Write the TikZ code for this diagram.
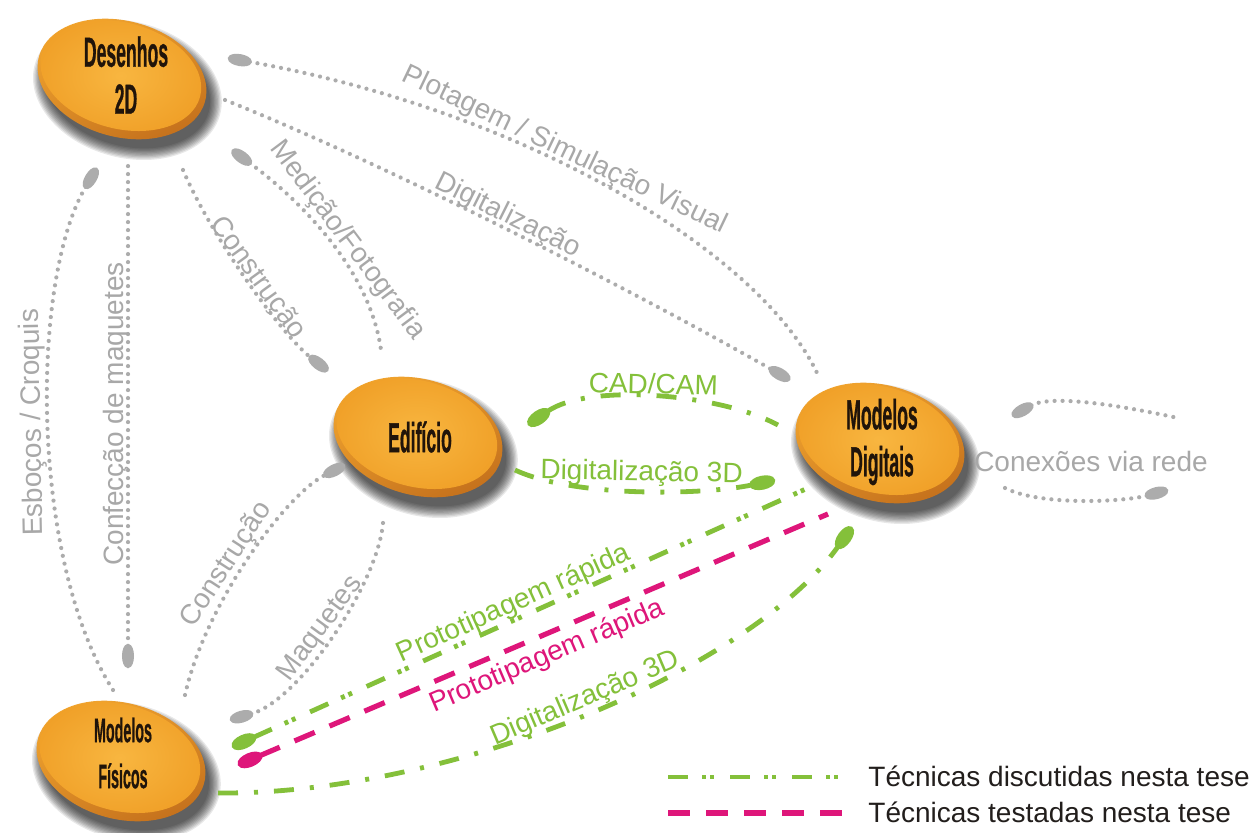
\documentclass[tikz,border=0pt]{standalone}
\usepackage{graphicx}
\usepackage{fontspec}
\setmainfont{Liberation Sans}
\newfontfamily\btnfont{Liberation Sans Bold}[FakeBold=1.0]
\usetikzlibrary{arrows.meta}

\definecolor{lblgray}{RGB}{168,168,168}
\definecolor{dotgray}{RGB}{172,172,172}
\definecolor{lime}{RGB}{132,192,58}
\definecolor{mag}{RGB}{222,22,122}
\definecolor{ink}{RGB}{34,30,28}
\definecolor{btnink}{RGB}{32,20,10}
\definecolor{btnlight}{RGB}{248,182,64}
\definecolor{btnbody}{RGB}{240,160,40}
\definecolor{rimlight}{RGB}{242,166,48}
\definecolor{rimdark}{RGB}{196,112,28}

% horizontally condensed text for the buttons
\newcommand\cond[1]{\scalebox{0.42}[1]{#1}}

% orange pressed-button ellipse with a soft drop shadow
\newcommand\drawbutton[1]{%
  \begin{scope}[shift={#1}]
    \foreach \s in {0,...,9}
      \fill[black, opacity=0.09, rotate=-15] (8,9) ellipse ({96-\s*1.3} and {68-\s*1.3});
    \shade[rotate=-15, top color=rimlight, bottom color=rimdark, shading angle=25] (0,0) ellipse (86 and 58);
    \shade[rotate=-15, inner color=btnlight, outer color=btnbody] (-2,-3) ellipse (82 and 53);
  \end{scope}}

\tikzset{
  blob/.tip={Ellipse[length=12pt,width=6pt]},
  bigblob/.tip={Ellipse[length=13pt,width=7pt]},
  lbl/.style={font=\fontsize{14}{16}\selectfont, inner sep=0pt, text height=10pt, text depth=0pt, sloped},
  graylink/.style={draw=dotgray, line width=2.1pt, line cap=round, dash pattern=on 0pt off 4pt},
  graylbl/.style={lbl, text=lblgray},
  greenlink/.style={draw=lime, line width=2.4pt},
  dashdot/.style={dash pattern=on 10pt off 8pt on 2pt off 8pt},
  dashdotdot/.style={dash pattern=on 10pt off 7pt on 2pt off 2pt on 2pt off 8pt},
  maglink/.style={draw=mag, line width=2.6pt, dash pattern=on 11pt off 8pt},
  btnlabel/.style={text=btnink, align=center, inner sep=0pt, font=\btnfont\fontsize{21}{23.5}\selectfont},
  legendtext/.style={text=ink, font=\fontsize{14}{16}\selectfont, inner sep=0pt, anchor=base west},
}

\begin{document}
\begin{tikzpicture}[x=0.5pt,y=-0.5pt]
\fill[white] (0,0) rectangle (1258,833);
\useasboundingbox (0,0) rectangle (1258,833);

% ---- buttons ----
\drawbutton{(122,79)}
\drawbutton{(418,437)}
\drawbutton{(880,443)}
\drawbutton{(121,761)}

\node[btnlabel] (des) at (126,75) {\cond{Desenhos}\\\cond{2D}};
\node[btnlabel] (edi) at (420,437) {\cond{Edifício}};
\node[btnlabel] (dig) at (882,442) {\cond{Modelos}\\\cond{Digitais}};
\node[btnlabel, font=\btnfont\fontsize{17}{23}\selectfont] (fis) at (123,753) {\cond{Modelos}\\\cond{Físicos}};

% ---- grey dotted links ----
\draw[graylink, {blob}-] ([shift={(102,-17)}]des.center)
  .. controls +(292,52) and +(-58,-125) .. ([shift={(-64,-67)}]dig.center)
  node[graylbl, pos=0.42, above=2pt] {Plotagem / Simulação Visual};
\draw[graylink, -{blob}] ([shift={(99,25)}]des.center)
  .. controls +(175,70) and +(-140,-80) .. ([shift={(-92,-62)}]dig.center)
  node[graylbl, pos=0.47, above=1.5pt] {Digitalização};
\draw[graylink, {blob}-] ([shift={(106,75)}]des.center)
  .. controls +(68,50) and +(-11,-80) .. ([shift={(-39,-87)}]edi.center)
  node[graylbl, pos=0.55, above=2.5pt] {Medição/Fotografia};
\draw[graylink, -{blob}] ([shift={(57,95)}]des.center)
  .. controls +(30,70) and +(-45,-35) .. ([shift={(-92,-66)}]edi.center)
  node[graylbl, pos=0.5, above=0pt] {Construção};
\draw[graylink, -{blob}] ([shift={(-10,-63)}]fis.center)
  .. controls +(-83,-130) and +(-67,112) .. ([shift={(-29,93)}]des.center)
  node[graylbl, allow upside down, pos=0.5, above=3pt] {Esboços / Croquis};
\draw[graylink, {blob}-] ([shift={(5,-85)}]fis.center) -- ([shift={(2,85)}]des.center)
  node[graylbl, pos=0.5, above=1pt] {Confecção de maquetes};
\draw[graylink, -{blob}] ([shift={(62,-58)}]fis.center)
  .. controls +(20,-90) and +(-60,30) .. ([shift={(-75,28)}]edi.center)
  node[graylbl, pos=0.44, above=3pt] {Construção};
\draw[graylink, -{blob}] ([shift={(-37,86)}]edi.center)
  .. controls +(-5,60) and +(70,-20) .. ([shift={(107,-33)}]fis.center)
  node[graylbl, pos=0.5, above=2pt] {Maquetes};

% network connections
\coordinate (net1) at (1178,418);
\coordinate (net2) at (1005,488);
\draw[graylink, {blob}-] ([shift={(130,-26)}]dig.center) .. controls +(40,-22) and +(-55,-12) .. (net1);
\draw[graylink, -{blob}] (net2) .. controls +(35,18) and +(-45,12) .. ([shift={(286,48)}]dig.center);
\node[text=lblgray, font=\fontsize{14}{16}\selectfont, inner sep=0pt] (net) at (1091,461) {Conexões via rede};

% ---- green and magenta links ----
\draw[greenlink, dashdot, {bigblob}-] ([shift={(108,-12)}]edi.center)
  .. controls +(60,-42) and +(-60,-32) .. ([shift={(-104,-17)}]dig.center)
  node[lbl, text=lime, pos=0.5, above=0.5pt] {CAD/CAM};
\draw[greenlink, dashdot, -{bigblob}] ([shift={(95,33)}]edi.center)
  .. controls +(60,28) and +(-70,15) .. ([shift={(-107,38)}]dig.center)
  node[lbl, text=lime, pos=0.5, above=4pt] {Digitalização 3D};
\draw[greenlink, dashdotdot, {bigblob}-] ([shift={(109,-6)}]fis.center) -- ([shift={(-74,46)}]dig.center)
  node[lbl, text=lime, pos=0.5, above=2.5pt] {Prototipagem rápida};
\draw[maglink, {bigblob}-] ([shift={(115,12)}]fis.center) -- ([shift={(-54,72)}]dig.center)
  node[lbl, text=mag, pos=0.51, below=3pt] {Prototipagem rápida};
\draw[greenlink, dashdot, -{bigblob}] ([shift={(95,40)}]fis.center)
  .. controls +(232,2) and +(-102,143) .. ([shift={(-30,85)}]dig.center)
  node[lbl, text=lime, pos=0.51, above=2pt] {Digitalização 3D};

% ---- legend ----
\draw[greenlink, dashdotdot] (668,777) -- (852,777);
\node[legendtext] (leg1) at (868,786) {Técnicas discutidas nesta tese};
\draw[maglink] (668,813) -- (842,813);
\node[legendtext] (leg2) at (868,822) {Técnicas testadas nesta tese};
\end{tikzpicture}
\end{document}
